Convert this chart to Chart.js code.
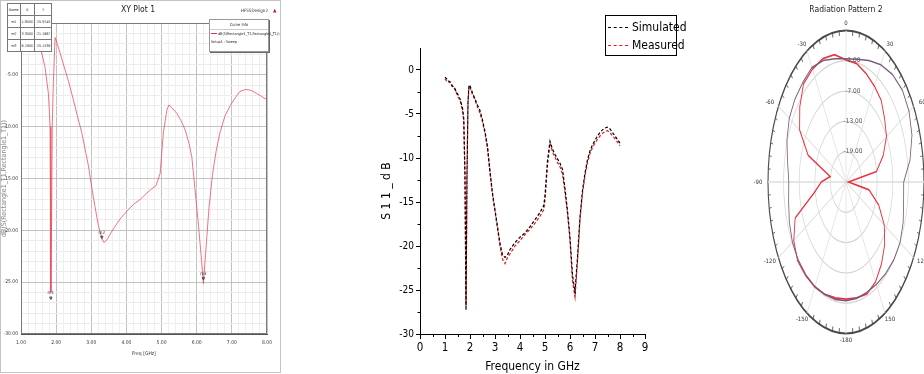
<!DOCTYPE html>
<html>
<head>
<meta charset="utf-8">
<script src="https://cdn.jsdelivr.net/npm/chart.js@4.4.1/dist/chart.umd.min.js"></script>
<style>
html, body { margin: 0; padding: 0; background: #fff; width: 924px; height: 374px; overflow: hidden; position: relative;
  font-family: 'Liberation Sans Narrow', 'DejaVu Sans Condensed', Arial, sans-serif; }
canvas { position: absolute; top: 0; }
.abs { position: absolute; white-space: nowrap; }
#frame1 { left: 0; top: 0; width: 279px; height: 371px; border: 1px solid #c4c4c4; }
#ttl1 { left: 0; width: 276px; top: 4px; text-align: center; font-size: 8.5px; color: #222; }
#design { left: 241px; top: 7px; font-size: 4.5px; color: #333; }
#design b { color: #c0202a; font-size: 5px; margin-left: 5px; }
#markTbl { left: 7px; top: 3px; border-collapse: collapse; background: #fff; font-size: 3.6px; color: #222; }
#markTbl td { border: 1px solid #777; height: 11px; padding: 0 1px; text-align: center; }
#curveInfo { left: 209px; top: 19px; width: 58px; height: 31px; background: #fff; border: 1px solid #999;
  box-shadow: 1px 1px 0 #666; font-size: 3.7px; color: #222; }
#curveInfo .head { text-align: center; height: 9px; line-height: 9px; border-bottom: 1px solid #ccc; font-size: 4px; }
#curveInfo .row { height: 8px; line-height: 8px; padding-left: 1px; }
#curveInfo .ln { display: inline-block; width: 6px; border-top: 1.5px solid #e53040; vertical-align: middle; margin-right: 1px; }
#legend2 { left: 605px; top: 15px; width: 70px; height: 39px; border: 1px solid #000; background: #fff; font-size: 12px; color: #000; }
#legend2 .row { position: absolute; left: 2px; height: 14px; line-height: 14px; }
#legend2 .ln { display: inline-block; width: 20px; border-top: 1px dashed #000; vertical-align: middle; margin-right: 4px; }
#ttl3 { left: 766px; width: 160px; top: 4px; text-align: center; font-size: 8.5px; color: #222; }
</style>
</head>
<body>
<div id="frame1" class="abs"></div>
<canvas id="hfss" width="280" height="374" style="left:0"></canvas>
<canvas id="s11" width="300" height="374" style="left:380px"></canvas>
<canvas id="polar" width="212" height="374" style="left:740px"></canvas>
<div id="ttl1" class="abs">XY Plot 1</div>
<div id="design" class="abs">HFSSDesign2<b>▲</b></div>
<table id="markTbl" class="abs"></table>
<div id="curveInfo" class="abs">
  <div class="head">Curve Info</div>
  <div class="row"><span class="ln"></span>dB(S(Rectangle1_T1,Rectangle1_T1))</div>
  <div class="row">Setup1 : Sweep</div>
</div>
<div id="legend2" class="abs"></div>
<div id="ttl3" class="abs">Radiation Pattern 2</div>

<script>
// ---- panel 1: HFSS XY plot ----
const hfssFreq = [1.00, 1.20, 1.40, 1.54, 1.68, 1.78, 1.83, 1.85, 1.87, 1.89,
  1.92, 1.97, 2.05, 2.20, 2.35, 2.49, 2.60, 2.73, 2.85, 2.92,
  3.00, 3.10, 3.20, 3.30, 3.36, 3.45, 3.53, 3.68, 3.82, 4.00,
  4.20, 4.40, 4.58, 4.72, 4.84, 4.96, 5.05, 5.15, 5.21, 5.30,
  5.43, 5.55, 5.67, 5.78, 5.86, 5.95, 6.05, 6.14, 6.19, 6.28,
  6.35, 6.45, 6.55, 6.66, 6.80, 6.95, 7.10, 7.23, 7.40, 7.55,
  7.71, 7.85, 8.00];
const hfssDb = [-0.6, -0.9, -1.5, -2.2, -4.2, -6.8, -10.0, -25.97, -19.0, -9.9,
  -5.8, -1.4, -2.2, -3.9, -5.6, -7.4, -8.9, -10.6, -12.6, -13.8,
  -15.6, -17.6, -19.5, -20.8, -21.17, -20.9, -20.4, -19.6, -18.9, -18.2,
  -17.5, -17.0, -16.4, -16.0, -15.7, -14.5, -10.6, -8.4, -7.9, -8.2,
  -8.7, -9.4, -10.3, -11.6, -12.9, -16.0, -19.5, -23.0, -25.15, -21.0,
  -17.8, -14.6, -12.4, -10.6, -9.0, -8.0, -7.2, -6.6, -6.4, -6.5,
  -6.8, -7.1, -7.4];
const markerNames = ['m1', 'm2', 'm3'];
const markerFreq = [1.85, 3.30, 6.19];
const markerDb = [-25.9745, -21.1667, -25.1538];

// ---- panel 2: simulated vs measured S11 ----
const s11Freq = [1.0, 1.1, 1.2, 1.3, 1.4, 1.5, 1.6, 1.7, 1.75, 1.8,
  1.84, 1.88, 1.92, 1.96, 2.0, 2.1, 2.2, 2.3, 2.4, 2.5,
  2.6, 2.7, 2.8, 2.9, 3.0, 3.1, 3.2, 3.3, 3.4, 3.5,
  3.6, 3.8, 4.0, 4.2, 4.4, 4.6, 4.8, 4.95, 5.0, 5.1,
  5.2, 5.3, 5.4, 5.5, 5.6, 5.7, 5.8, 5.9, 6.0, 6.1,
  6.2, 6.3, 6.4, 6.5, 6.6, 6.7, 6.8, 6.9, 7.0, 7.1,
  7.2, 7.3, 7.4, 7.5, 7.6, 7.7, 7.8, 7.9, 8.0];
const simulated = [-0.8, -1.1, -1.4, -1.8, -2.2, -2.7, -3.3, -4.3, -5.5, -12.0,
  -27.3, -12.0, -3.5, -1.7, -1.8, -2.6, -3.3, -4.0, -4.6, -5.7,
  -7.0, -8.7, -11.5, -14.0, -15.9, -17.8, -19.7, -21.0, -21.3, -21.0,
  -20.4, -19.6, -19.0, -18.5, -17.8, -17.0, -16.2, -15.4, -14.3, -10.3,
  -8.1, -9.0, -9.6, -10.1, -10.6, -11.3, -13.5, -16.0, -19.0, -23.3,
  -25.2, -21.3, -16.7, -13.7, -11.7, -10.2, -9.2, -8.5, -8.0, -7.5,
  -7.1, -6.8, -6.6, -6.5, -6.7, -7.1, -7.5, -7.9, -8.3];
const measured = [-1.0, -1.4, -1.3, -2.0, -2.1, -3.0, -3.4, -4.6, -5.8, -12.5,
  -26.8, -11.5, -3.8, -1.9, -2.0, -2.8, -3.4, -4.2, -4.9, -5.9,
  -7.2, -8.9, -11.7, -14.2, -16.1, -18.0, -20.0, -21.5, -22.0, -21.3,
  -20.9, -20.0, -19.4, -18.7, -18.1, -17.4, -16.6, -15.9, -14.8, -10.8,
  -8.3, -9.3, -9.9, -10.5, -11.0, -11.8, -13.9, -16.3, -19.4, -24.0,
  -25.8, -21.8, -17.0, -14.0, -12.0, -10.5, -9.5, -8.8, -8.3, -7.9,
  -7.5, -7.2, -7.0, -6.9, -7.1, -7.5, -7.8, -8.2, -8.6];
const xMinor = [0.5, 1.5, 2.5, 3.5, 4.5, 5.5, 6.5, 7.5, 8.5];
const yMinor = [-27.5, -22.5, -17.5, -12.5, -7.5, -2.5];

// ---- panel 3: radiation pattern (dB vs angle, clockwise from top) ----
const polarAngles = [0, 10, 20, 30, 40, 50, 60, 70, 80, 90, 100, 110,
  120, 130, 140, 150, 160, 170, 180, 190, 200, 210, 220, 230,
  240, 250, 260, 270, 280, 290, 300, 310, 320, 330, 340, 350];
const patternRed = [-0.8, -1.2, -2.2, -3.1, -3.9, -5.6, -7.0, -9.8, -13.1, -24.0, -16.0, -11.6,
  -8.0, -5.6, -3.8, -2.2, -1.4, -1.7, -1.8, -1.7, -1.3, -1.0, -0.8, -0.7,
  -1.8, -4.2, -12.5, -15.5, -18.8, -9.5, -4.4, -1.8, 0.4, 0.8, 1.0, 0.6];
const patternDark = [-0.6, -0.3, 0.6, 1.8, 2.8, 3.3, 3.0, 2.0, 0.0, -2.8, -2.5, -1.6,
  -1.0, -1.0, -1.3, -1.6, -1.7, -1.6, -1.5, -1.4, -1.3, -1.1, -1.0, -1.0,
  -1.2, -1.8, -2.6, -3.0, -2.2, -0.8, 0.2, 0.6, 0.8, 1.2, 0.6, -0.2];
const angleTickText = ['0', '30', '60', '90', '120', '150', '-180', '-150', '-120', '-90', '-60', '-30'];
const ringLabels = [-19, -13, -7, -1];

const FONT = "'Liberation Sans Narrow', 'DejaVu Sans Condensed', Arial, sans-serif";
Chart.defaults.font.family = FONT;
Chart.defaults.color = '#222';

const isWhole = v => Math.abs(v - Math.round(v)) < 1e-6;
const pts = (xs, ys) => xs.map((x, i) => ({ x: x, y: ys[i] }));

// marker table (panel 1)
const tbl = document.getElementById('markTbl');
tbl.innerHTML = '<tr><td>Name</td><td>X</td><td>Y</td></tr>' +
  markerNames.map((n, i) => `<tr><td>${n}</td><td>${markerFreq[i].toFixed(4)}</td><td>${markerDb[i].toFixed(4)}</td></tr>`).join('');

// legend (panel 2)
const seriesNames = ['Simulated', 'Measured'];
const seriesColors = ['#000000', '#e8141e'];
document.getElementById('legend2').innerHTML = seriesNames.map((n, i) =>
  `<div class="row" style="top:${4 + i * 18}px"><span class="ln" style="border-top-color:${seriesColors[i]}"></span>${n}</div>`).join('');

const hfssDecor = {
  id: 'hfssDecor',
  afterDraw(chart) {
    const { ctx, chartArea: a, scales: { x, y } } = chart;
    ctx.save();
    ctx.strokeStyle = '#7a7a7a';
    ctx.lineWidth = 1;
    ctx.strokeRect(a.left + 0.5, a.top + 0.5, a.right - a.left - 1, a.bottom - a.top - 1);
    ctx.font = '4.5px ' + FONT;
    ctx.fillStyle = '#333';
    ctx.strokeStyle = '#444';
    ctx.textAlign = 'center';
    ctx.textBaseline = 'middle';
    markerNames.forEach((n, i) => {
      const px = x.getPixelForValue(markerFreq[i]);
      const py = y.getPixelForValue(markerDb[i]);
      const ty = i === 0 ? py + 1 : py - 10;
      const tri = i === 0 ? py + 6 : py - 5;
      ctx.fillText(n, px, ty);
      ctx.beginPath();
      ctx.moveTo(px - 1.2, tri - 1.2);
      ctx.lineTo(px + 1.2, tri - 1.2);
      ctx.lineTo(px, tri + 1.2);
      ctx.closePath();
      ctx.stroke();
    });
    ctx.restore();
  }
};

new Chart(document.getElementById('hfss'), {
  type: 'line',
  data: {
    datasets: [{
      label: 'dB(S(Rectangle1_T1,Rectangle1_T1))',
      data: pts(hfssFreq, hfssDb),
      borderColor: 'rgba(232, 70, 88, 0.75)',
      borderWidth: 1,
      pointRadius: 0,
      tension: 0
    }]
  },
  options: {
    responsive: false, animation: false, devicePixelRatio: 1,
    layout: { padding: { top: 23, right: 13, left: 0, bottom: 0 } },
    plugins: { legend: { display: false }, tooltip: { enabled: false } },
    scales: {
      x: {
        type: 'linear', min: 1, max: 8,
        afterFit: s => { s.height = 40; },
        ticks: { stepSize: 0.2, autoSkip: false, maxRotation: 0, padding: 6, font: { size: 5 }, color: '#333',
          callback: v => isWhole(v) ? v.toFixed(2) : '' },
        grid: { drawTicks: false, color: c => isWhole(c.tick.value) ? '#c2c2c2' : '#efefef' },
        border: { color: '#555' },
        title: { display: true, text: 'Freq [GHz]', font: { size: 5 }, color: '#333', padding: { top: 0, bottom: 17 } }
      },
      y: {
        min: -30, max: 0,
        afterFit: s => { s.width = 21; },
        ticks: { stepSize: 1, autoSkip: false, padding: 3, font: { size: 5 }, color: '#333',
          callback: v => (Math.round(v) % 5 === 0) ? v.toFixed(2) : '' },
        grid: { drawTicks: false, color: c => (Math.round(c.tick.value) % 5 === 0) ? '#c2c2c2' : '#ececec' },
        border: { color: '#555' },
        title: { display: true, text: 'dB(S(Rectangle1_T1,Rectangle1_T1))', font: { size: 7 }, color: '#888', padding: 0 }
      }
    }
  },
  plugins: [hfssDecor]
});

const minorTicks = {
  id: 'minorTicks',
  afterDraw(chart) {
    const { ctx, chartArea: a, scales: { x, y } } = chart;
    ctx.save();
    ctx.strokeStyle = '#000';
    ctx.lineWidth = 1;
    ctx.beginPath();
    xMinor.forEach(v => {
      const px = Math.round(x.getPixelForValue(v)) + 0.5;
      ctx.moveTo(px, a.bottom);
      ctx.lineTo(px, a.bottom + 3);
    });
    yMinor.forEach(v => {
      const py = Math.round(y.getPixelForValue(v)) + 0.5;
      ctx.moveTo(a.left, py);
      ctx.lineTo(a.left - 2.5, py);
    });
    ctx.stroke();
    ctx.restore();
  }
};

new Chart(document.getElementById('s11'), {
  type: 'line',
  data: {
    datasets: [
      { label: seriesNames[0], data: pts(s11Freq, simulated), borderColor: seriesColors[0], borderWidth: 1.2,
        borderDash: [3, 2], pointRadius: 0, tension: 0 },
      { label: seriesNames[1], data: pts(s11Freq, measured), borderColor: seriesColors[1], borderWidth: 1.2,
        borderDash: [3, 2], pointRadius: 0, tension: 0 }
    ]
  },
  options: {
    responsive: false, animation: false, devicePixelRatio: 1,
    layout: { padding: { top: 48, right: 35, left: 0, bottom: 0 } },
    plugins: { legend: { display: false }, tooltip: { enabled: false } },
    scales: {
      x: {
        type: 'linear', min: 0, max: 9,
        afterFit: s => { s.height = 40; },
        ticks: { stepSize: 1, autoSkip: false, maxRotation: 0, padding: 2, font: { size: 11.5 }, color: '#000' },
        grid: { drawOnChartArea: false, drawTicks: true, tickLength: 5, color: '#000' },
        border: { color: '#000', width: 1 },
        title: { display: true, text: 'Frequency in GHz', font: { size: 12 }, color: '#000', padding: { top: 0, bottom: 0 } }
      },
      y: {
        min: -30, max: 2.5,
        afterFit: s => { s.width = 40; },
        ticks: { stepSize: 5, includeBounds: false, padding: 2, font: { size: 10 }, color: '#000' },
        grid: { drawOnChartArea: false, drawTicks: true, tickLength: 4, color: '#000' },
        border: { color: '#000', width: 1 },
        title: { display: true, text: 'S 1 1 _ d B', font: { size: 12 }, color: '#000', padding: 0 }
      }
    }
  },
  plugins: [minorTicks]
});

// polar plot is drawn as a radar chart stretched vertically into the ellipse of the reference
const Y_STRETCH = 151.5 / 78;
const polarStretch = {
  id: 'polarStretch',
  beforeDraw(chart) {
    const s = chart.scales.r, c = chart.ctx;
    c.save();
    c.translate(s.xCenter, s.yCenter);
    c.scale(1, Y_STRETCH);
    c.translate(-s.xCenter, -s.yCenter);
  },
  afterDatasetsDraw(chart) {
    chart.ctx.restore();
  },
  afterDraw(chart) {
    const s = chart.scales.r, c = chart.ctx;
    const R = s.drawingArea, xc = s.xCenter, yc = s.yCenter;
    c.save();
    // ticks on outer ring
    c.strokeStyle = '#444';
    c.lineWidth = 0.8;
    c.beginPath();
    for (let d = 0; d < 360; d += 5) {
      const a = d * Math.PI / 180;
      const len = d % 30 === 0 ? 0 : 2.5;
      if (!len) continue;
      c.moveTo(xc + Math.sin(a) * R, yc - Math.cos(a) * R * Y_STRETCH);
      c.lineTo(xc + Math.sin(a) * (R - len), yc - Math.cos(a) * (R - len) * Y_STRETCH);
    }
    c.stroke();
    // angle labels
    c.fillStyle = '#333';
    c.font = '6px ' + FONT;
    c.textAlign = 'center';
    c.textBaseline = 'middle';
    angleTickText.forEach((t, i) => {
      const a = i * 30 * Math.PI / 180;
      c.fillText(t, xc + Math.sin(a) * (R + 10), yc - Math.cos(a) * (R * Y_STRETCH + 7));
    });
    // ring labels
    c.fillStyle = '#555';
    c.font = '6.5px ' + FONT;
    ringLabels.forEach(v => {
      const r = s.getDistanceFromCenterForValue(v);
      c.fillText(v.toFixed(2), xc + 7, yc - r * Y_STRETCH);
    });
    c.restore();
  }
};

new Chart(document.getElementById('polar'), {
  type: 'radar',
  data: {
    labels: polarAngles,
    datasets: [
      { label: 'trace 2', data: patternDark, borderColor: '#7a5a78', borderWidth: 0.8, pointRadius: 0, fill: false, tension: 0 },
      { label: 'trace 1', data: patternRed, borderColor: '#e8323e', borderWidth: 0.9, pointRadius: 0, fill: false, tension: 0 }
    ]
  },
  options: {
    responsive: false, animation: false, devicePixelRatio: 1,
    layout: { padding: { left: 28, right: 28, top: 104, bottom: 114 } },
    plugins: { legend: { display: false }, tooltip: { enabled: false } },
    scales: {
      r: {
        min: -25, max: 5,
        beginAtZero: false,
        ticks: { display: false, stepSize: 6 },
        pointLabels: { display: false },
        grid: {
          circular: true,
          color: c => c.index === 5 ? '#4a4a4a' : '#d6d6d6',
          lineWidth: c => c.index === 5 ? 1.1 : 0.7
        },
        angleLines: {
          color: c => c.index % 3 === 0 ? '#dedede' : 'rgba(0,0,0,0)',
          lineWidth: c => c.index % 3 === 0 ? 0.7 : 0
        }
      }
    }
  },
  plugins: [polarStretch]
});
</script>
</body>
</html>
